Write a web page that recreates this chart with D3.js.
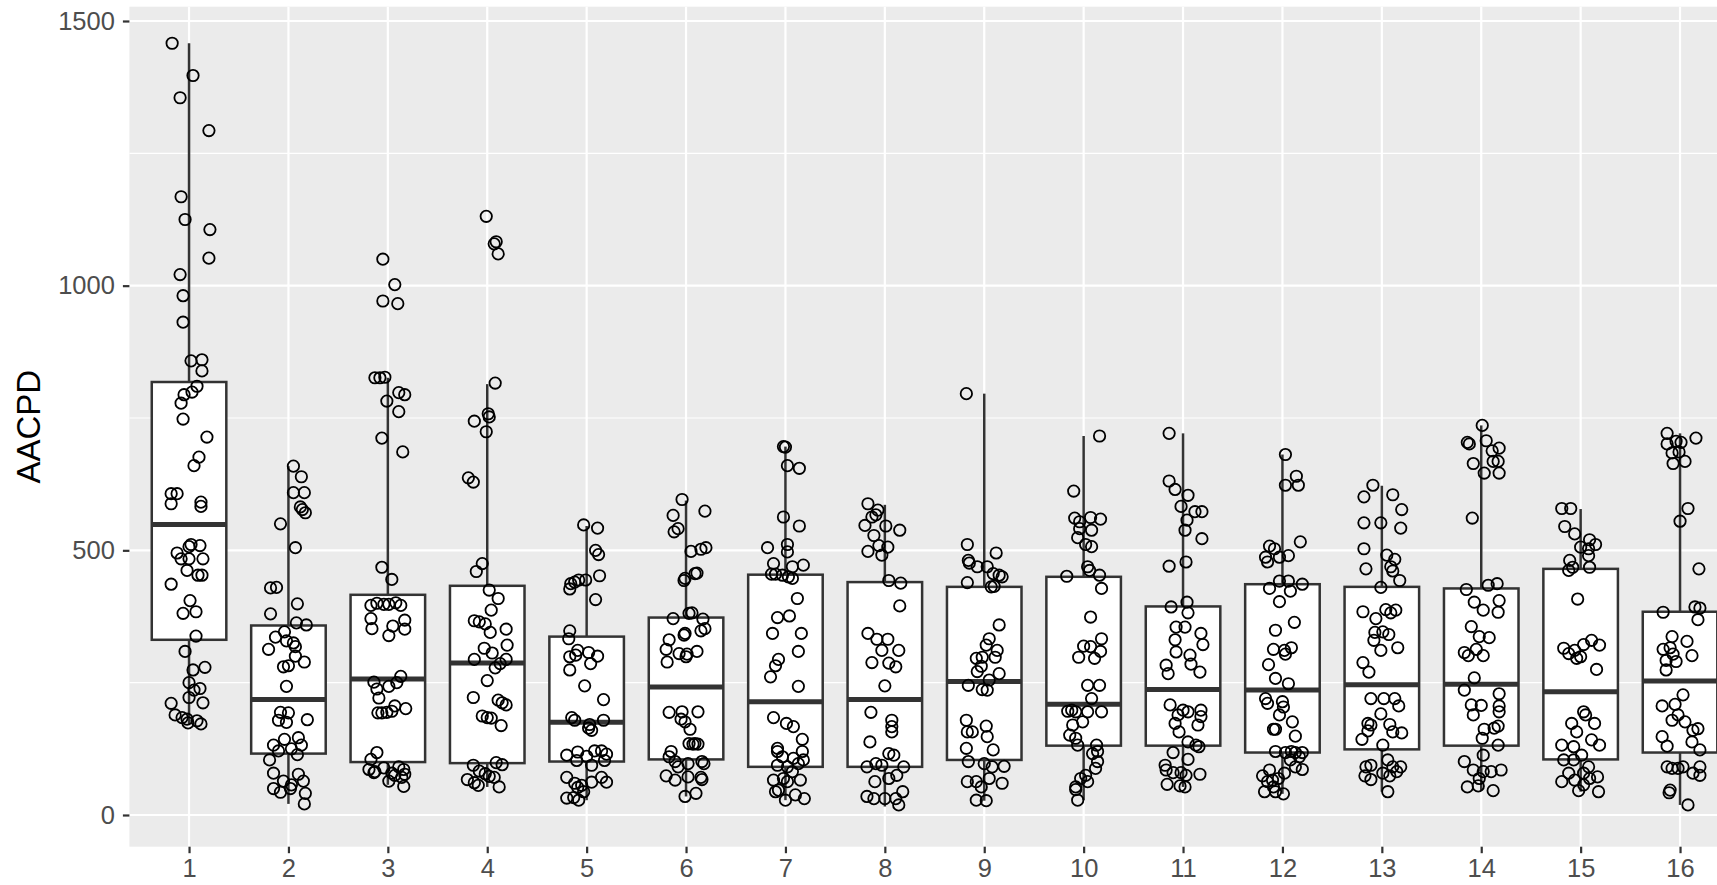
<!DOCTYPE html>
<html>
<head>
<meta charset="utf-8">
<script src="https://cdn.jsdelivr.net/npm/d3@7"></script>
<style>
  html, body { margin: 0; padding: 0; background: #ffffff; }
  svg { display: block; }
  text { font-family: "Liberation Sans", Arial, Helvetica, sans-serif; }
</style>
</head>
<body>
<svg id="chart" width="1717" height="885"></svg>
<script>
// ---------------- data ----------------
const categories = ["1","2","3","4","5","6","7","8","9","10","11","12","13","14","15","16"];
const yTicks = [0, 500, 1000, 1500];
const yMinor = [250, 750, 1250];
const yTitle = "AACPD";

// box statistics per category
const whiskerLow  = [172, 21, 57, 53, 28, 35, 28, 16, 27, 28, 53, 40, 44, 46, 44, 19];
const lowerQuart  = [331, 116, 100, 98, 101, 105, 91, 91, 104, 131, 131, 118, 124, 131, 105, 118];
const medians     = [549, 218, 257, 287, 175, 242, 214, 218, 252, 209, 237, 236, 246, 247, 233, 253];
const upperQuart  = [818, 358, 416, 433, 337, 373, 454, 440, 431, 450, 394, 436, 431, 428, 465, 384];
const whiskerHigh = [1458, 659, 826, 814, 546, 594, 696, 586, 796, 716, 721, 681, 622, 736, 578, 721];

// jittered observations: [value, horizontal jitter in category units]
const jitteredPoints = [
 [[1458,-0.17],[1397,0.04],[1355,-0.09],[1293,0.2],[1168,-0.08],[1125,-0.04],[1106,0.21],[1052,0.2],[1021,-0.09],[981,-0.06],[931,-0.06],[858,0.02],[860,0.13],[839,0.13],[810,0.08],[799,0.03],[794,-0.05],[778,-0.08],[748,-0.06],[714,0.18],[676,0.1],[660,0.05],[607,-0.18],[607,-0.12],[588,-0.18],[591,0.12],[583,0.12],[495,-0.12],[511,0.02],[507,0.0],[509,0.11],[484,-0.08],[484,0.0],[484,0.14],[462,-0.02],[453,0.09],[453,0.13],[436,-0.18],[405,0.01],[381,-0.06],[384,0.07],[338,0.07],[309,-0.04],[274,0.04],[279,0.16],[250,0.0],[239,0.11],[236,0.05],[222,0.0],[211,-0.18],[212,0.14],[189,-0.14],[184,-0.07],[174,-0.01],[178,0.08],[172,0.12],[181,-0.02]],
 [[659,0.05],[639,0.13],[609,0.05],[609,0.16],[582,0.12],[577,0.14],[571,0.17],[550,-0.08],[505,0.07],[429,-0.18],[430,-0.12],[399,0.09],[380,-0.18],[363,0.08],[359,0.18],[346,-0.04],[336,-0.13],[329,-0.02],[325,0.05],[318,0.07],[313,-0.2],[300,0.07],[289,0.16],[280,-0.05],[282,0],[243,-0.02],[194,-0.08],[193,0],[179,-0.1],[175,-0.02],[180,0.19],[143,-0.04],[132,-0.15],[146,0.1],[132,0.13],[125,0.03],[121,-0.1],[104,-0.19],[114,0.09],[79,-0.15],[77,0.1],[64,0.15],[64,-0.05],[50,-0.15],[43,-0.08],[50,0.02],[41,0.17],[21,0.16],[57,0.03]],
 [[1050,-0.05],[1002,0.07],[971,-0.05],[966,0.1],[826,-0.13],[826,-0.08],[827,-0.03],[798,0.11],[794,0.17],[782,-0.01],[762,0.11],[712,-0.06],[686,0.15],[468,-0.06],[445,0.04],[396,-0.17],[400,-0.11],[398,-0.04],[398,0.01],[401,0.08],[396,0.13],[371,-0.17],[368,0.17],[352,-0.16],[357,0.05],[351,0.17],[339,0.01],[262,0.13],[251,-0.14],[243,0.01],[250,0.09],[238,-0.11],[221,-0.09],[206,0.07],[201,0.18],[193,-0.1],[193,-0.06],[194,-0.01],[196,0.04],[118,-0.11],[105,-0.17],[86,-0.19],[82,-0.13],[89,-0.04],[79,0.04],[91,0.11],[86,0.16],[77,0.17],[75,0.07],[71,0.14],[54,0.16],[64,0.01],[80,-0.14]],
 [[1131,-0.01],[1079,0.07],[1083,0.09],[1060,0.11],[816,0.08],[758,0.01],[752,0.02],[744,-0.13],[724,-0.01],[637,-0.19],[629,-0.14],[475,-0.05],[460,-0.11],[425,0.02],[409,0.11],[387,0.04],[367,-0.13],[365,-0.08],[361,-0.02],[351,0.19],[345,0.03],[321,0.2],[315,-0.03],[306,0.05],[294,-0.13],[294,0.19],[286,0.13],[278,0.08],[254,0],[222,-0.14],[217,0.11],[212,0.15],[208,0.19],[187,-0.05],[184,0],[183,0.04],[169,0.14],[94,-0.14],[83,-0.08],[99,0.09],[95,0.15],[67,-0.2],[61,-0.13],[56,-0.09],[78,-0.02],[71,0.07],[53,0.12],[73,0.02]],
 [[548,-0.03],[542,0.11],[500,0.09],[492,0.12],[452,0.13],[437,-0.16],[440,-0.12],[444,-0.08],[444,-0.01],[427,-0.17],[407,0.09],[348,-0.17],[333,-0.18],[311,-0.09],[299,-0.17],[307,0.02],[300,0.11],[302,-0.11],[286,0.04],[274,-0.17],[244,-0.02],[218,0.17],[184,-0.15],[179,-0.12],[171,0.03],[164,0.02],[160,0.05],[179,0.17],[113,-0.2],[119,-0.09],[111,0],[121,0.08],[121,0.15],[115,0.2],[103,-0.1],[94,0.05],[103,0.18],[71,-0.2],[60,-0.12],[56,-0.05],[52,-0.09],[62,0.05],[71,0.15],[62,0.2],[32,-0.2],[33,-0.13],[28,-0.08],[44,-0.03]],
 [[596,-0.04],[574,0.19],[566,-0.13],[541,-0.08],[535,-0.12],[498,0.05],[502,0.15],[505,0.2],[456,0.09],[457,0.11],[443,-0.02],[447,-0.01],[382,0.06],[381,0.03],[371,-0.13],[370,0.17],[352,0.19],[348,0.15],[340,-0.02],[343,-0.01],[331,-0.17],[313,-0.2],[289,-0.19],[305,-0.07],[304,0.01],[309,0.11],[299,0],[194,-0.17],[195,-0.04],[195,0.12],[181,-0.05],[176,-0.01],[162,0.04],[135,0.03],[134,0.07],[135,0.09],[134,0.12],[120,-0.15],[110,-0.17],[91,-0.08],[101,-0.11],[97,0.02],[101,0.16],[97,0.18],[74,-0.2],[66,-0.11],[72,0.02],[71,0.15],[67,0.16],[35,-0.01],[41,0.1]],
 [[696,-0.02],[695,0],[660,0.02],[655,0.14],[563,-0.02],[546,0.14],[505,-0.18],[511,0.02],[497,0.02],[475,-0.12],[469,0.07],[472,0.18],[455,-0.14],[455,-0.1],[453,-0.03],[450,0.03],[447,0.07],[409,0.12],[373,-0.08],[376,0.04],[343,-0.13],[343,0.16],[309,0.13],[294,-0.07],[282,-0.1],[261,-0.15],[243,0.13],[184,-0.12],[173,0.01],[167,0.08],[143,0.17],[126,-0.08],[120,-0.08],[120,0.17],[104,0.18],[110,-0.03],[107,0.08],[91,0.02],[97,0.13],[94,-0.08],[66,-0.12],[69,-0.02],[82,0.07],[66,0.15],[47,-0.07],[63,0.02],[38,0.1],[31,0.19],[28,0],[44,-0.1]],
 [[588,-0.17],[576,-0.07],[563,-0.13],[567,-0.09],[547,-0.2],[546,0.01],[538,0.15],[528,-0.11],[509,-0.06],[506,0.03],[498,-0.17],[491,-0.03],[443,0.04],[438,0.16],[395,0.15],[343,-0.17],[332,-0.08],[332,0.03],[311,-0.03],[311,0.14],[288,-0.13],[287,0.04],[280,0.11],[244,0],[194,-0.14],[179,0.07],[167,0.07],[157,0.07],[138,-0.15],[116,0.04],[113,0.09],[97,-0.09],[91,-0.18],[94,-0.03],[91,0.19],[69,0.04],[75,0.12],[63,-0.1],[35,-0.18],[31,-0.11],[31,0],[44,0.18],[19,0.14],[31,0.11]],
 [[796,-0.18],[511,-0.17],[495,0.12],[481,-0.16],[476,-0.15],[469,-0.07],[469,0.03],[456,0.09],[453,0.15],[450,0.18],[439,-0.17],[432,0.1],[431,0.07],[359,0.15],[333,0.05],[321,0.02],[311,0.13],[296,-0.08],[298,-0.02],[298,0.11],[281,-0.03],[271,-0.07],[267,0.15],[245,-0.16],[255,0.05],[237,-0.02],[236,0.03],[179,-0.18],[157,-0.17],[157,-0.12],[168,0.02],[148,0.03],[126,-0.18],[123,0.09],[101,-0.16],[97,0],[92,0.2],[91,0.08],[63,-0.17],[63,-0.08],[69,0.05],[60,0.18],[28,-0.08],[27,0.02],[53,-0.03]],
 [[716,0.16],[612,-0.1],[561,-0.09],[562,0.07],[559,0.17],[554,-0.04],[541,-0.04],[538,0.08],[524,-0.06],[511,0.02],[507,0.08],[469,0.04],[462,0.06],[451,-0.17],[453,0.16],[428,0.18],[374,0.07],[333,0.18],[319,0],[318,0.07],[309,0.17],[298,-0.05],[296,0.11],[245,0.04],[245,0.16],[220,0.08],[196,-0.16],[198,-0.12],[195,-0.08],[195,0.04],[195,0.18],[170,-0.11],[176,-0.01],[151,-0.14],[145,-0.08],[132,-0.06],[132,0.13],[120,0.14],[116,0.09],[101,0.14],[88,0.12],[75,0.02],[69,-0.03],[63,0.04],[53,-0.08],[48,-0.08],[28,-0.06]],
 [[721,-0.14],[631,-0.14],[615,-0.08],[604,0.05],[583,-0.02],[573,0.12],[573,0.19],[557,0.04],[538,0.02],[522,0.19],[478,0.03],[470,-0.14],[402,0.04],[393,-0.12],[382,0.05],[355,-0.07],[355,0.02],[343,0.18],[331,-0.08],[322,0.2],[308,-0.07],[302,0.07],[285,0.08],[283,-0.17],[267,-0.15],[270,0.17],[208,-0.13],[189,-0.05],[198,0],[195,0.05],[198,0.18],[186,0.18],[173,-0.08],[170,0.15],[157,-0.04],[138,0.05],[132,0.13],[129,0.16],[118,-0.1],[105,0.05],[94,-0.18],[85,-0.17],[80,-0.1],[80,-0.02],[75,0.03],[77,0.17],[58,-0.16],[55,-0.03],[53,0.02]],
 [[681,0.03],[640,0.14],[623,0.03],[623,0.16],[516,0.18],[508,-0.13],[503,-0.08],[487,-0.17],[478,-0.15],[487,-0.03],[490,0.06],[442,-0.03],[442,0.06],[428,-0.13],[423,0.08],[436,0.2],[403,-0.03],[364,0.12],[349,-0.07],[313,-0.09],[311,0.02],[316,0.09],[304,0.03],[284,-0.14],[258,-0.07],[248,0.06],[220,-0.17],[211,-0.15],[214,0],[204,0.01],[189,-0.03],[176,0.1],[162,-0.09],[162,-0.07],[149,0.13],[120,-0.07],[118,0.03],[120,0.09],[118,0.13],[118,0.2],[110,0.17],[104,0.08],[91,0.13],[86,0.2],[74,-0.2],[85,-0.13],[79,0.02],[63,-0.15],[66,-0.1],[69,-0.04],[44,-0.18],[53,-0.09],[40,0.01],[44,-0.07]],
 [[623,-0.09],[601,-0.18],[605,0.11],[577,0.2],[552,-0.18],[552,-0.01],[542,0.19],[503,-0.18],[491,0.05],[483,0.13],[469,0.09],[461,0.11],[465,-0.16],[443,0.18],[430,-0.01],[384,-0.19],[388,0.04],[382,0.09],[387,0.14],[371,-0.06],[345,-0.07],[346,0.01],[341,0.07],[330,-0.08],[316,0.16],[311,-0.01],[288,-0.19],[270,-0.13],[220,-0.11],[220,0.02],[220,0.13],[206,0.17],[191,-0.01],[173,-0.14],[170,-0.11],[171,0.08],[157,0.11],[155,0.2],[159,-0.14],[143,-0.2],[132,0.01],[91,-0.16],[94,-0.11],[104,0.06],[91,0.11],[91,0.19],[74,-0.17],[67,-0.11],[79,0.01],[74,0.08],[82,0.15],[44,0.06]],
 [[736,0.01],[704,-0.14],[701,-0.12],[707,0.05],[688,0.11],[693,0.18],[664,-0.08],[668,0.12],[668,0.17],[646,0.03],[646,0.18],[561,-0.09],[426,-0.15],[434,0.07],[437,0.16],[402,-0.07],[405,0.18],[387,0.02],[383,0.17],[356,-0.1],[337,-0.02],[335,0.08],[307,-0.17],[301,-0.13],[313,-0.05],[301,0.02],[259,-0.07],[236,-0.17],[229,0.18],[208,-0.1],[207,0],[206,0.18],[189,-0.08],[195,0.18],[162,0.03],[164,0.13],[168,0.17],[145,0.01],[132,0.17],[113,0.02],[101,-0.17],[85,-0.08],[82,0.02],[82,0.1],[85,0.2],[53,-0.14],[55,-0.03],[46,0.12],[69,-0.02]],
 [[579,-0.19],[579,-0.1],[545,-0.16],[531,-0.06],[506,0],[520,0.09],[511,0.15],[503,0.08],[481,-0.11],[490,0.08],[462,-0.12],[468,-0.08],[468,0.09],[408,-0.03],[315,-0.17],[305,-0.12],[311,-0.06],[296,-0.04],[322,0.03],[330,0.11],[321,0.19],[299,0],[275,0.16],[173,-0.09],[195,0.03],[189,0.05],[173,0.14],[157,-0.04],[142,0.11],[132,0.19],[132,-0.19],[129,-0.07],[113,0.01],[104,-0.17],[104,-0.07],[91,0.08],[63,-0.19],[79,-0.12],[66,-0.06],[79,0.03],[69,0.09],[72,0.17],[57,0.03],[46,-0.02],[44,0.18]],
 [[721,-0.13],[701,-0.13],[706,-0.04],[704,0.01],[712,0.16],[684,-0.08],[686,-0.01],[664,-0.07],[668,0.05],[579,0.08],[555,0],[465,0.19],[383,-0.17],[393,0.15],[391,0.2],[369,0.18],[337,-0.08],[328,0.07],[313,-0.17],[316,-0.1],[304,-0.07],[292,-0.14],[301,0.12],[290,-0.04],[274,-0.14],[227,0.03],[206,-0.18],[209,-0.05],[189,-0.02],[179,-0.08],[176,0.05],[160,0.13],[163,0.18],[138,0.12],[148,-0.18],[130,-0.13],[123,0.2],[91,-0.13],[88,-0.08],[88,-0.02],[91,0.03],[79,0.13],[75,0.2],[91,0.2],[47,-0.1],[42,-0.11],[19,0.08]]
];

// ---------------- layout ----------------
const panelLeft = 129.4, step = 99.4;
const panelRight = panelLeft + 16.2 * step;
const svg = d3.select("#chart");

const x = d3.scalePoint().domain(categories).range([panelLeft, panelRight]).padding(0.6);
const y = d3.scaleLinear().domain([0, 1500]).range([815, 21]);
const panelTop = 6.7, panelBottom = 846.7;
const boxW = 0.75 * x.step();

// panel background
svg.append("rect")
  .attr("x", panelLeft).attr("y", panelTop)
  .attr("width", panelRight - panelLeft).attr("height", panelBottom - panelTop)
  .attr("fill", "#EBEBEB");

// grid lines
const grid = svg.append("g");
grid.selectAll("line.minor").data(yMinor).join("line")
  .attr("x1", panelLeft).attr("x2", panelRight)
  .attr("y1", d => y(d)).attr("y2", d => y(d))
  .attr("stroke", "#fff").attr("stroke-width", 1.1);
grid.selectAll("line.majorY").data(yTicks).join("line")
  .attr("x1", panelLeft).attr("x2", panelRight)
  .attr("y1", d => y(d)).attr("y2", d => y(d))
  .attr("stroke", "#fff").attr("stroke-width", 2.2);
grid.selectAll("line.majorX").data(categories).join("line")
  .attr("y1", panelTop).attr("y2", panelBottom)
  .attr("x1", d => x(d)).attr("x2", d => x(d))
  .attr("stroke", "#fff").attr("stroke-width", 2.2);

// boxplots
const boxData = categories.map((c, i) => ({
  c, lo: whiskerLow[i], q1: lowerQuart[i], med: medians[i], q3: upperQuart[i], hi: whiskerHigh[i]
}));
const boxes = svg.append("g").selectAll("g").data(boxData).join("g");
const stroke = "#333333", lw = 2.5;
boxes.append("line")
  .attr("x1", d => x(d.c)).attr("x2", d => x(d.c))
  .attr("y1", d => y(d.hi)).attr("y2", d => y(d.q3))
  .attr("stroke", stroke).attr("stroke-width", lw);
boxes.append("line")
  .attr("x1", d => x(d.c)).attr("x2", d => x(d.c))
  .attr("y1", d => y(d.q1)).attr("y2", d => y(d.lo))
  .attr("stroke", stroke).attr("stroke-width", lw);
boxes.append("rect")
  .attr("x", d => x(d.c) - boxW / 2).attr("width", boxW)
  .attr("y", d => y(d.q3)).attr("height", d => y(d.q1) - y(d.q3))
  .attr("fill", "#fff").attr("stroke", stroke).attr("stroke-width", lw);
boxes.append("line")
  .attr("x1", d => x(d.c) - boxW / 2).attr("x2", d => x(d.c) + boxW / 2)
  .attr("y1", d => y(d.med)).attr("y2", d => y(d.med))
  .attr("stroke", stroke).attr("stroke-width", lw * 2);

// jittered points
const pts = [];
jitteredPoints.forEach((arr, i) => arr.forEach(([v, j]) => pts.push({ c: categories[i], v, j })));
svg.append("g").selectAll("circle").data(pts).join("circle")
  .attr("cx", d => x(d.c) + d.j * x.step())
  .attr("cy", d => y(d.v))
  .attr("r", 5.7)
  .attr("fill", "none")
  .attr("stroke", "#000")
  .attr("stroke-width", 1.8);

// axes
const yAxis = d3.axisLeft(y).tickValues(yTicks).tickFormat(d3.format("d")).tickSize(6.5).tickPadding(8);
const gy = svg.append("g").attr("transform", `translate(${panelLeft},0)`).call(yAxis);
gy.select(".domain").remove();
gy.selectAll(".tick line").attr("stroke", stroke).attr("stroke-width", 2.2);
gy.selectAll(".tick text").attr("fill", "#4D4D4D").attr("font-size", 25.5)
  .attr("font-family", "Liberation Sans, Arial, sans-serif");

const xAxis = d3.axisBottom(x).tickSize(6.5).tickPadding(6);
const gx = svg.append("g").attr("transform", `translate(0,${panelBottom})`).call(xAxis);
gx.select(".domain").remove();
gx.selectAll(".tick line").attr("stroke", stroke).attr("stroke-width", 2.2);
gx.selectAll(".tick text").attr("fill", "#4D4D4D").attr("font-size", 25.5)
  .attr("font-family", "Liberation Sans, Arial, sans-serif");

// y title
svg.append("text")
  .attr("transform", `translate(40,${(panelTop + panelBottom) / 2}) rotate(-90)`)
  .attr("text-anchor", "middle")
  .attr("font-size", 33)
  .attr("fill", "#000")
  .text(yTitle);
</script>
</body>
</html>
